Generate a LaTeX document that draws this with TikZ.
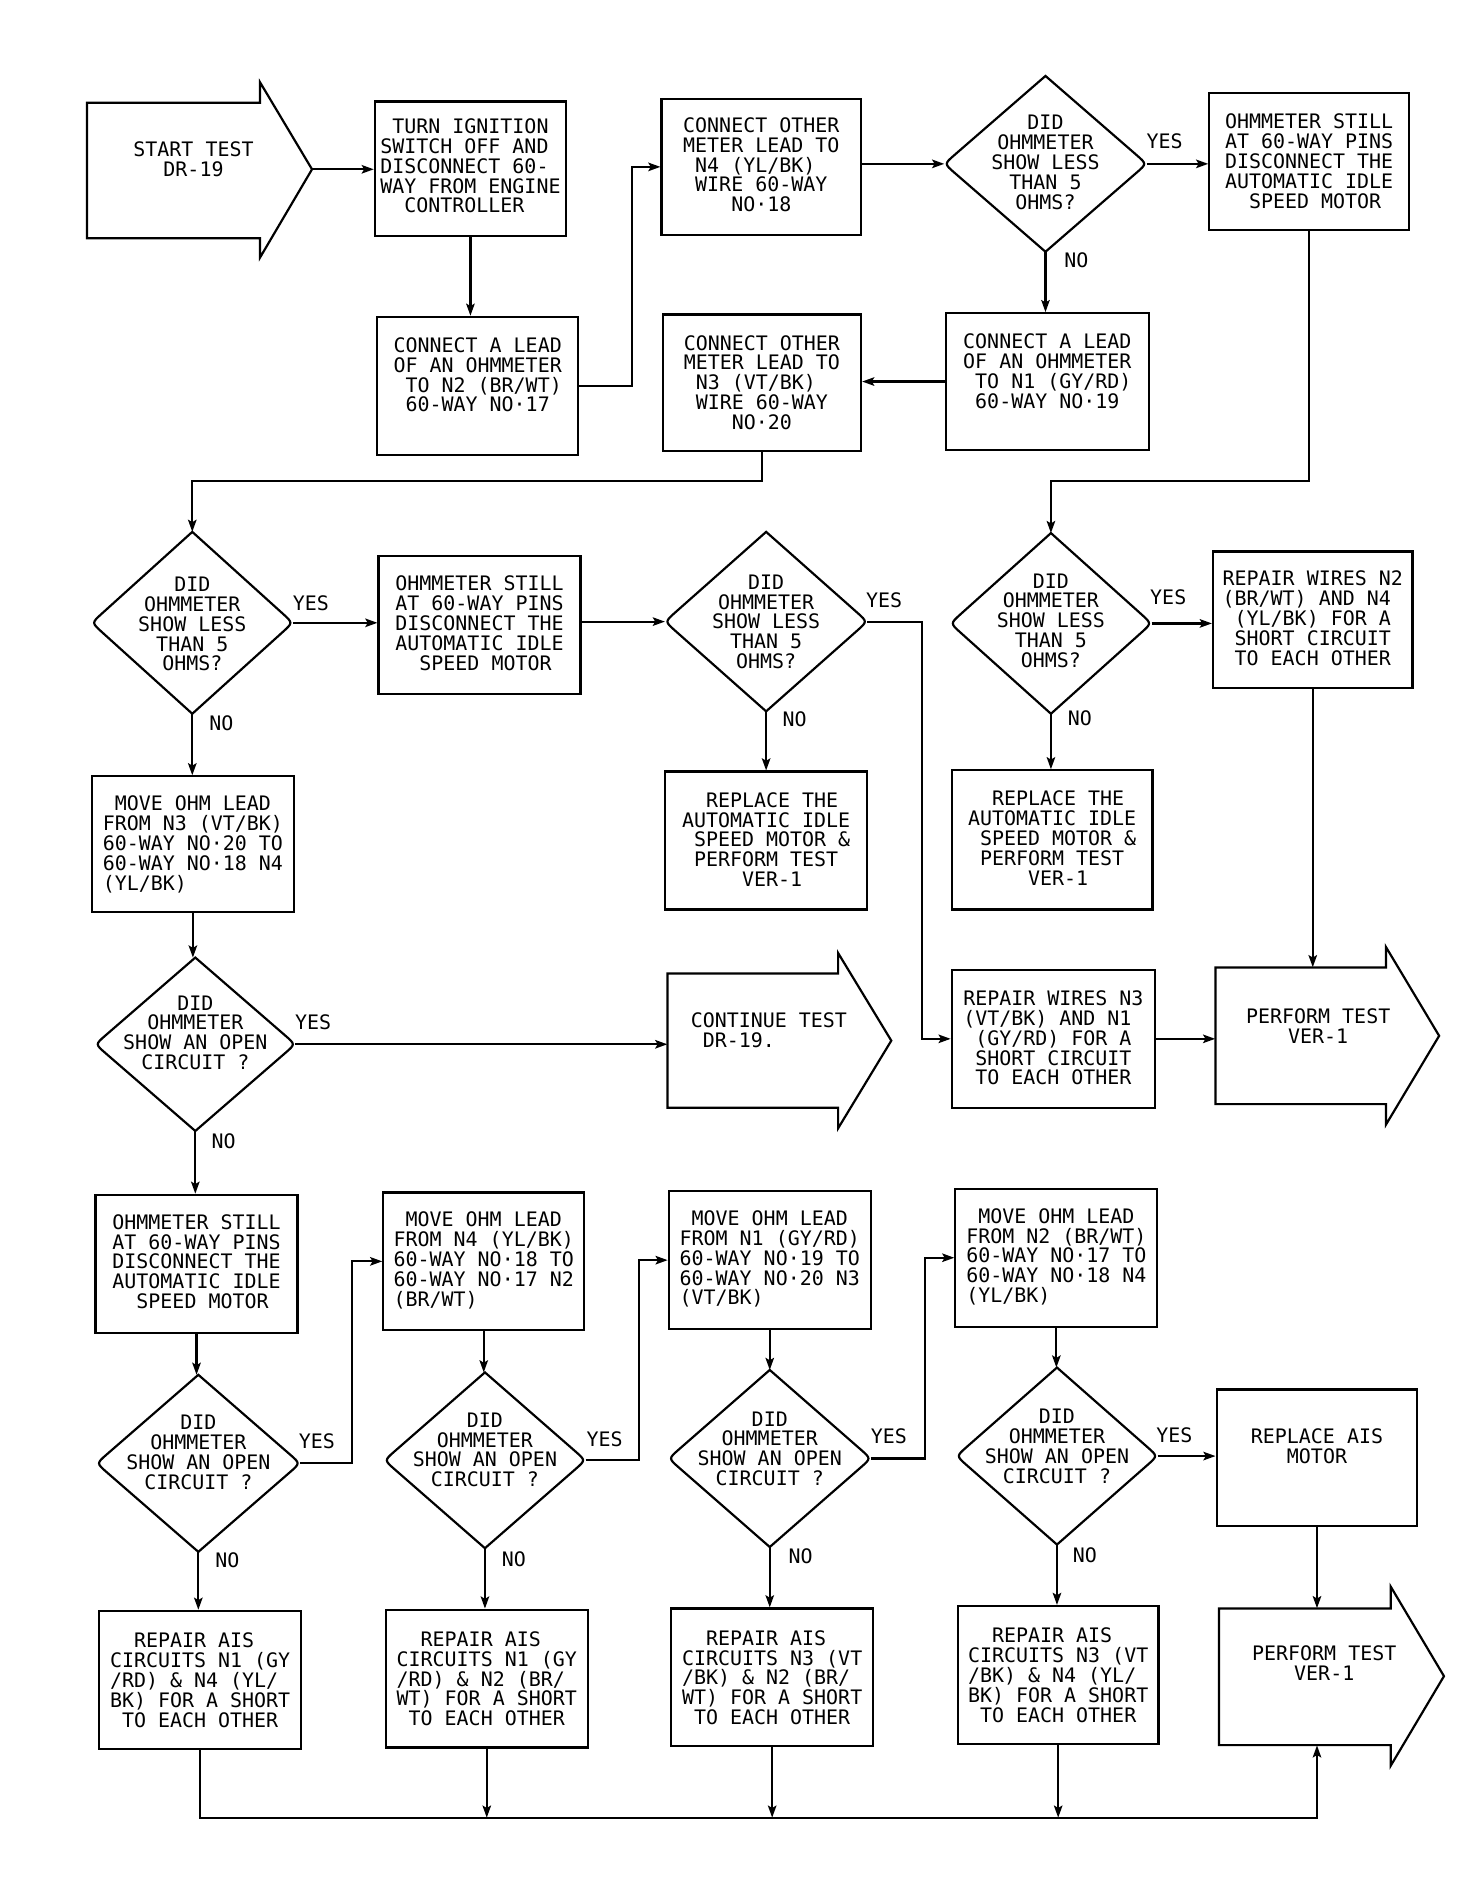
\documentclass[tikz,border=0pt]{standalone}
\usepackage{fontspec}
\setmainfont{DejaVu Sans Mono}
\usetikzlibrary{calc,shapes.geometric,arrows.meta}
\tikzset{
 shapeline/.style={line width=1.8pt, line join=miter},
 boxst/.style={draw, line width=1.8pt, rectangle, inner sep=0pt},
 dnode/.style={shape=diamond, draw=none, inner sep=0pt},
 ghost/.style={rectangle, draw=none, inner sep=0pt},
 txt/.style={font=\fontsize{16.5}{16.4}\selectfont, inner sep=0pt, align=left, anchor=north},
 txtc/.style={txt, align=center},
 lbl/.style={font=\fontsize{16.5}{16.4}\selectfont, inner sep=0pt},
 conn/.style={line width=1.8pt},
 arr/.style={conn, -{Stealth[length=10pt,width=7pt,inset=2pt]}},
}
\newcommand\mkbox[5]{\node[boxst, minimum width={#3-#2}, minimum height={#5-#4}] (#1) at ({(#2+#3)/2},{-(#4+#5)/2}) {};}
\newcommand\mkdiam[5]{%
 \node[dnode, minimum width={2*#4}, minimum height={2*#5}] (#1) at (#2,-#3) {};
 \draw[shapeline] (#1.north) -- ($(#1.east)!0.1!(#1.north)$) .. controls (#1.east) .. ($(#1.east)!0.1!(#1.south)$) -- (#1.south) -- ($(#1.west)!0.1!(#1.south)$) .. controls (#1.west) .. ($(#1.west)!0.1!(#1.north)$) -- cycle;}
\begin{document}
\begin{tikzpicture}[x=1pt,y=1pt]
\useasboundingbox (0,0) rectangle (1220,-1562);

% ---------- arrow-shaped terminals ----------
\draw[shapeline] (72,-85) -- (215,-85) -- (215,-68) -- (258,-140) -- (215,-213) -- (215,-197) -- (72,-197) -- cycle;
\coordinate (starttip) at (258,-140);
\node[txtc] (startT) at (160,-117) {START TEST\\DR-19};

\draw[shapeline] (552,-805) -- (693,-805) -- (693,-788) -- (737,-860.5) -- (693,-933) -- (693,-916) -- (552,-916) -- cycle;
\node[ghost, minimum width=141, minimum height=111] (cont) at (622.5,-860.5) {};
\node[txt, anchor=north west] (contT) at (571,-837) {CONTINUE TEST\\~DR-19.};

\draw[shapeline] (1005,-800) -- (1146,-800) -- (1146,-783) -- (1190,-856.5) -- (1146,-930) -- (1146,-913) -- (1005,-913) -- cycle;
\node[ghost, minimum width=141, minimum height=113] (p1) at (1075.5,-856.5) {};
\node[txtc] (p1T) at (1090,-834) {PERFORM TEST\\VER-1};

\draw[shapeline] (1008,-1330) -- (1150,-1330) -- (1150,-1312) -- (1194,-1386) -- (1150,-1460) -- (1150,-1443) -- (1008,-1443) -- cycle;
\node[ghost, minimum width=142, minimum height=113] (p2) at (1079,-1386.5) {};
\node[txtc] (p2T) at (1095,-1361) {PERFORM TEST\\VER-1};

% ---------- boxes ----------
\mkbox{turn}{310}{468}{84}{195}
\node[txt] (turnT) at (389,-98) {~TURN IGNITION\\SWITCH OFF AND\\DISCONNECT 60-\\WAY FROM ENGINE\\~~CONTROLLER};
\mkbox{n2lead}{312}{478}{262}{376}
\node[txt] (n2leadT) at (395,-279) {CONNECT A LEAD\\OF AN OHMMETER\\~TO N2 (BR/WT)\\~60-WAY NO·17};
\mkbox{n4}{547}{712}{82}{194}
\node[txt] (n4T) at (629.5,-97) {CONNECT OTHER\\METER LEAD TO\\~N4 (YL/BK)\\~WIRE 60-WAY\\~~~~NO·18};
\mkbox{still1}{1000}{1165}{77}{190}
\node[txt] (still1T) at (1082.5,-94) {OHMMETER STILL\\AT 60-WAY PINS\\DISCONNECT THE\\AUTOMATIC IDLE\\~~SPEED MOTOR};
\mkbox{n1lead}{782}{950}{259}{372}
\node[txt] (n1leadT) at (866,-276) {CONNECT A LEAD\\OF AN OHMMETER\\~TO N1 (GY/RD)\\~60-WAY NO·19};
\mkbox{n3}{548}{712}{260}{373}
\node[txt] (n3T) at (630,-277) {CONNECT OTHER\\METER LEAD TO\\~N3 (VT/BK)\\~WIRE 60-WAY\\~~~~NO·20};

\mkbox{still2}{313}{480}{460}{574}
\node[txt] (still2T) at (396.5,-476) {OHMMETER STILL\\AT 60-WAY PINS\\DISCONNECT THE\\AUTOMATIC IDLE\\~~SPEED MOTOR};
\mkbox{rep1}{550}{717}{638}{752}
\node[txt] (rep1T) at (633.5,-655) {~~REPLACE THE\\AUTOMATIC IDLE\\~SPEED MOTOR \&\\~PERFORM TEST\\~~~~~VER-1};
\mkbox{rep2}{787}{953}{637}{752}
\node[txt] (rep2T) at (870,-654) {~~REPLACE THE\\AUTOMATIC IDLE\\~SPEED MOTOR \&\\~PERFORM TEST\\~~~~~VER-1};
\mkbox{rw24}{1003}{1168}{456}{569}
\node[txt] (rw24T) at (1085.5,-472) {REPAIR WIRES N2\\(BR/WT) AND N4\\~(YL/BK) FOR A\\~SHORT CIRCUIT\\~TO EACH OTHER};
\mkbox{move1}{76}{243}{642}{754}
\node[txt] (move1T) at (159.5,-658) {~MOVE OHM LEAD\\FROM N3 (VT/BK)\\60-WAY NO·20 TO\\60-WAY NO·18 N4\\(YL/BK)};
\mkbox{rw31}{787}{955}{802}{916}
\node[txt] (rw31T) at (871,-819) {REPAIR WIRES N3\\(VT/BK) AND N1\\~(GY/RD) FOR A\\~SHORT CIRCUIT\\~TO EACH OTHER};

\mkbox{still3}{79}{246}{988}{1102}
\node[txt] (still3T) at (162.5,-1004) {OHMMETER STILL\\AT 60-WAY PINS\\DISCONNECT THE\\AUTOMATIC IDLE\\~~SPEED MOTOR};
\mkbox{move2}{317}{483}{986}{1100}
\node[txt] (move2T) at (400,-1002) {~MOVE OHM LEAD\\FROM N4 (YL/BK)\\60-WAY NO·18 TO\\60-WAY NO·17 N2\\(BR/WT)};
\mkbox{move3}{553}{720}{985}{1099}
\node[txt] (move3T) at (636.5,-1001) {~MOVE OHM LEAD\\FROM N1 (GY/RD)\\60-WAY NO·19 TO\\60-WAY NO·20 N3\\(VT/BK)};
\mkbox{move4}{790}{957}{983}{1097}
\node[txt] (move4T) at (873.5,-999) {~MOVE OHM LEAD\\FROM N2 (BR/WT)\\60-WAY NO·17 TO\\60-WAY NO·18 N4\\(YL/BK)};
\mkbox{raism}{1006}{1172}{1149}{1262}
\node[txtc] (raismT) at (1089,-1181) {REPLACE AIS\\MOTOR};

\mkbox{r1}{82}{249}{1332}{1446}
\node[txt] (r1T) at (165.5,-1350) {~~REPAIR AIS\\CIRCUITS N1 (GY\\/RD) \& N4 (YL/\\BK) FOR A SHORT\\~TO EACH OTHER};
\mkbox{r2}{319}{486}{1331}{1445}
\node[txt] (r2T) at (402.5,-1349) {~~REPAIR AIS\\CIRCUITS N1 (GY\\/RD) \& N2 (BR/\\WT) FOR A SHORT\\~TO EACH OTHER};
\mkbox{r3}{555}{722}{1330}{1444}
\node[txt] (r3T) at (638.5,-1348) {~~REPAIR AIS\\CIRCUITS N3 (VT\\/BK) \& N2 (BR/\\WT) FOR A SHORT\\~TO EACH OTHER};
\mkbox{r4}{792}{958}{1328}{1442}
\node[txt] (r4T) at (875,-1346) {~~REPAIR AIS\\CIRCUITS N3 (VT\\/BK) \& N4 (YL/\\BK) FOR A SHORT\\~TO EACH OTHER};

% ---------- decisions ----------
\mkdiam{d1}{864.5}{135.5}{83.5}{72.5}
\node[txtc] (d1T) at (864.5,-95) {DID\\OHMMETER\\SHOW LESS\\THAN 5\\OHMS?};
\mkdiam{d2}{159}{515}{83}{75}
\node[txtc] (d2T) at (159,-477) {DID\\OHMMETER\\SHOW LESS\\THAN 5\\OHMS?};
\mkdiam{d4}{633.5}{514}{83.5}{74}
\node[txtc] (d4T) at (633.5,-475) {DID\\OHMMETER\\SHOW LESS\\THAN 5\\OHMS?};
\mkdiam{d3}{869}{515.5}{83}{74.5}
\node[txtc] (d3T) at (869,-474) {DID\\OHMMETER\\SHOW LESS\\THAN 5\\OHMS?};
\mkdiam{d5}{161.5}{863.5}{82.5}{71.5}
\node[txtc] (d5T) at (161.5,-823) {DID\\OHMMETER\\SHOW AN OPEN\\CIRCUIT ?};
\mkdiam{d6}{164}{1210}{84}{73}
\node[txtc] (d6T) at (164,-1170) {DID\\OHMMETER\\SHOW AN OPEN\\CIRCUIT ?};
\mkdiam{d7}{401}{1207.5}{83}{72.5}
\node[txtc] (d7T) at (401,-1168) {DID\\OHMMETER\\SHOW AN OPEN\\CIRCUIT ?};
\mkdiam{d8}{636.5}{1206}{83.5}{73}
\node[txtc] (d8T) at (636.5,-1167) {DID\\OHMMETER\\SHOW AN OPEN\\CIRCUIT ?};
\mkdiam{d9}{874}{1204}{83}{73}
\node[txtc] (d9T) at (874,-1165) {DID\\OHMMETER\\SHOW AN OPEN\\CIRCUIT ?};

% ---------- YES / NO labels ----------
\node[lbl] (y1) at (963,-117) {YES};  \node[lbl] (n1) at (890,-215) {NO};
\node[lbl] (y2) at (257,-499) {YES};  \node[lbl] (n2) at (183,-598) {NO};
\node[lbl] (y4) at (731,-496) {YES};  \node[lbl] (n4l) at (657,-595) {NO};
\node[lbl] (y3) at (966,-494) {YES};  \node[lbl] (n3l) at (893,-594) {NO};
\node[lbl] (y5) at (259,-845) {YES};  \node[lbl] (n5) at (185,-944) {NO};
\node[lbl] (y6) at (262,-1192) {YES}; \node[lbl] (n6) at (188,-1290) {NO};
\node[lbl] (y7) at (500,-1190) {YES}; \node[lbl] (n7) at (425,-1289) {NO};
\node[lbl] (y8) at (735,-1188) {YES}; \node[lbl] (n8) at (662,-1287) {NO};
\node[lbl] (y9) at (971,-1187) {YES}; \node[lbl] (n9) at (897,-1286) {NO};

% ---------- connectors ----------
\draw[arr] (starttip) -- (starttip -| turn.west);
\draw[arr] (turn.south) -- (turn.south |- n2lead.north);
\draw[arr] (n2lead.east) -- ++(44,0) |- (n4.west);
\draw[arr] (n4.east |- d1.west) -- (d1.west);
\draw[arr] (d1.east) -- (d1.east -| still1.west);
\draw[arr] (d1.south) -- (d1.south |- n1lead.north);
\draw[arr] (n1lead.west) -- (n1lead.west -| n3.east);
\draw[arr] (n3.south) -- ++(0,-24) -| (d2.north);
\draw[arr] (still1.south) -- ++(0,-207) -| (d3.north);

\draw[arr] (d2.east) -- (d2.east -| still2.west);
\draw[arr] (still2.east |- d4.west) -- (d4.west);
\draw[arr] (d4.east) -- ++(45,0) |- (rw31.west);
\draw[arr] (d4.south) -- (d4.south |- rep1.north);
\draw[arr] (d3.east) -- (d3.east -| rw24.west);
\draw[arr] (d3.south) -- (d3.south |- rep2.north);
\draw[arr] (rw24.south) -- (rw24.south |- p1.north);
\draw[arr] (rw31.east) -- (rw31.east -| p1.west);

\draw[arr] (d2.south) -- (d2.south |- move1.north);
\draw[arr] (move1.south) -- (move1.south |- d5.north);
\draw[arr] (d5.east) -- (d5.east -| cont.west);
\draw[arr] (d5.south) -- (d5.south |- still3.north);
\draw[arr] (still3.south) -- (still3.south |- d6.north);
\draw[arr] (d6.east) -- ++(43,0) |- (move2.west);
\draw[arr] (move2.south) -- (move2.south |- d7.north);
\draw[arr] (d7.east) -- ++(44,0) |- (move3.west);
\draw[arr] (move3.south) -- (move3.south |- d8.north);
\draw[arr] (d8.east) -- ++(45,0) |- (move4.west);
\draw[arr] (move4.south) -- (move4.south |- d9.north);
\draw[arr] (d9.east) -- (d9.east -| raism.west);
\draw[arr] (raism.south) -- (raism.south |- p2.north);

\draw[arr] (d6.south) -- (d6.south |- r1.north);
\draw[arr] (d7.south) -- (d7.south |- r2.north);
\draw[arr] (d8.south) -- (d8.south |- r3.north);
\draw[arr] (d9.south) -- (d9.south |- r4.north);

\coordinate (bot) at (0,-1503);
\draw[arr] (r1.south) -- (r1.south |- bot) -- (raism.south |- bot) -- (raism.south |- p2.south);
\draw[arr] (r2.south) -- (r2.south |- bot);
\draw[arr] (r3.south) -- (r3.south |- bot);
\draw[arr] (r4.south) -- (r4.south |- bot);
\end{tikzpicture}
\end{document}
